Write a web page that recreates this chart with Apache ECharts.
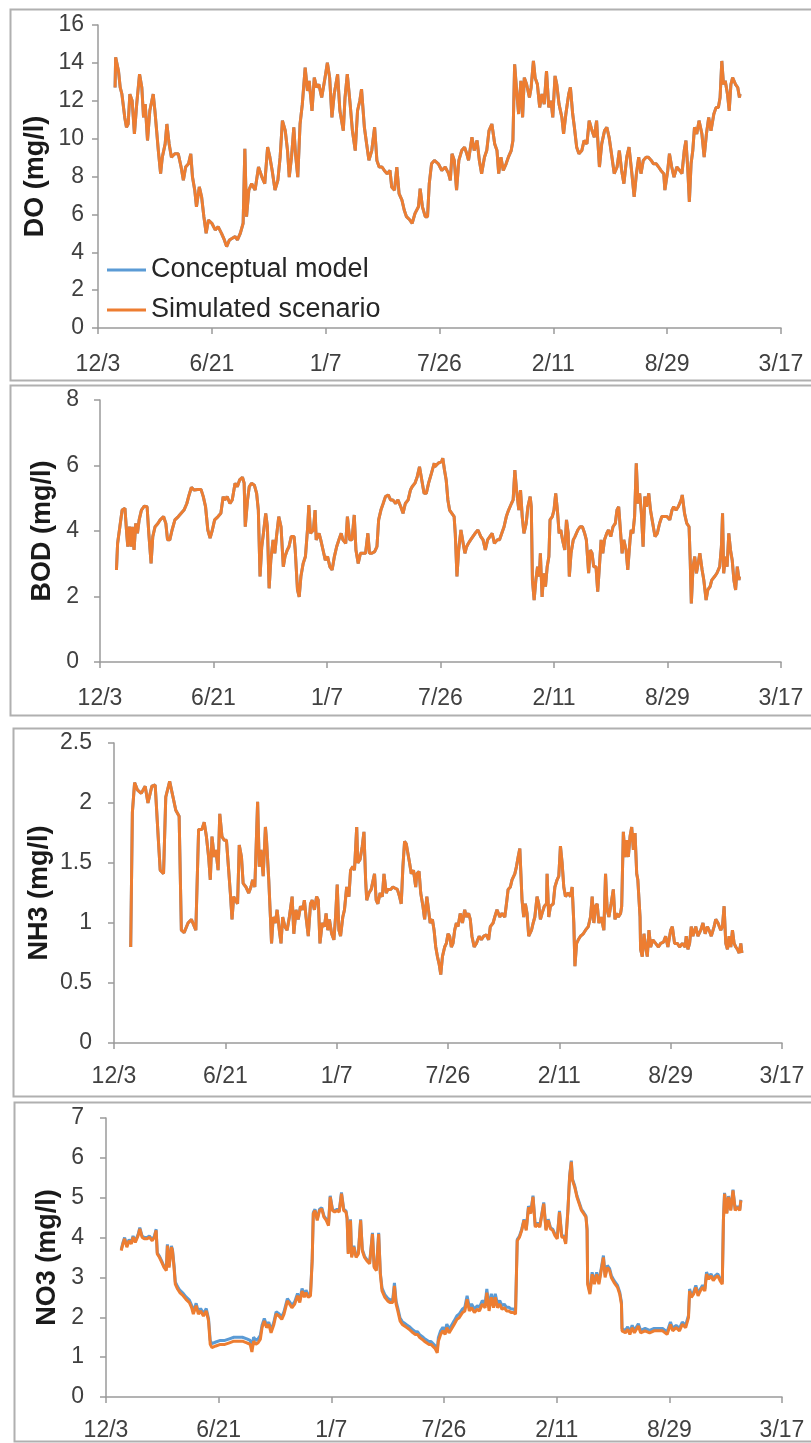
<!DOCTYPE html>
<html><head><meta charset="utf-8">
<script src="https://cdn.jsdelivr.net/npm/echarts@6/dist/echarts.min.js"></script>
<style>html,body{margin:0;padding:0;background:#fff}#c{width:811px;height:1443px}</style>
</head><body><div id="c"></div>
<script>
// ---------- tick labels (x axis is days since 12/3, major unit 200 days) ----------
const xTickLabels = ['12/3','6/21','1/7','7/26','2/11','8/29','3/17'];
const seriesNames = ['Conceptual model','Simulated scenario'];

// ---------- DO ----------
const doDays = [30,31,36,39,42,47,50,53,56,60,64,68,73,77,80,83,87,91,97,100,103,106,110,113,118,121,125,129,135,141,146,150,154,159,163,166,170,173,178,182,186,190,194,200,206,211,217,222,226,231,236,241,245,250,255,258,261,265,270,276,282,288,293,298,302,306,311,316,320,324,329,333,336,340,344,347,351,355,359,364,368,371,376,380,384,388,393,398,403,407,411,415,421,425,431,434,438,443,447,452,456,460,463,468,472,476,481,486,490,494,499,503,508,513,516,521,525,529,534,538,542,548,552,557,563,566,570,575,579,582,586,591,
598,604,610,616,619,622,626,630,634,639,644,648,651,657,661,666,670,674,679,683,687,692,697,701,704,708,712,717,721,726,729,732,736,739,743,746,749,753,758,761,765,768,772,776,780,784,788,792,796,799,803,806,810,815,818,822,827,830,834,837,841,845,850,854,859,863,868,872,876,881,885,890,894,898,903,907,912,916,920,924,929,933,938,942,946,950,954,958,963,967,972,976,981,985,989,994,996,1001,1004,1008,1012,1017,1022,1026,1030,1033,1036,1039,1042,1045,1048,1052,1056,1061,1065,1069,1073,1077,1082,1086,1090,1093,1096,1099,1102,1106,1109,1112,1115,1120,1124,1127,1128];
const doSimulated = [12.7,14.3,13.57,12.7,12.35,11.12,10.6,10.77,12.35,12.0,10.25,11.82,13.4,12.7,11.12,11.82,9.9,11.47,12.35,11.47,10.42,9.37,8.15,9.02,9.72,10.77,9.72,9.02,9.2,9.2,8.5,7.8,8.5,8.67,9.2,7.97,7.28,6.4,7.45,6.93,5.88,5.0,5.7,5.53,5.18,5.35,5.0,4.65,4.3,4.65,4.74,4.83,4.65,5.0,5.53,9.46,5.88,7.28,7.62,7.28,8.5,7.97,7.62,9.55,9.02,8.32,7.28,7.8,9.02,10.95,10.42,9.37,7.97,9.02,10.6,9.2,7.97,10.77,11.82,13.75,12.52,13.05,11.47,13.22,12.7,12.87,12.17,13.05,14.01,13.22,11.12,12.35,13.4,11.47,10.42,12.17,13.4,11.82,10.42,9.37,11.47,12.0,12.61,10.6,9.72,8.85,9.37,10.6,8.85,8.5,8.5,8.32,8.15,8.32,7.45,7.28,8.5,7.1,6.75,6.23,5.88,5.7,5.53,6.05,6.4,7.36,6.4,5.88,5.88,7.62,8.67,8.85,
8.67,8.32,8.5,8.15,7.8,9.2,8.85,7.28,8.85,9.37,9.55,9.2,8.85,10.07,9.37,9.9,8.85,8.15,9.02,9.37,10.42,10.77,9.72,9.37,8.15,9.02,8.32,8.67,9.02,9.37,9.9,13.92,12.35,11.3,13.05,11.12,13.22,12.87,12.17,12.7,14.1,13.22,12.87,11.65,12.35,11.82,13.57,11.65,12.0,11.12,13.31,12.87,11.82,11.12,10.25,11.3,12.35,12.7,11.3,10.6,9.55,9.2,9.37,9.9,9.72,10.95,10.42,10.07,10.95,8.5,9.72,10.42,10.6,10.07,9.02,8.15,8.5,9.37,8.32,7.62,9.02,9.55,8.15,6.93,8.15,9.02,8.15,8.85,9.02,9.02,8.85,8.67,8.67,8.5,8.32,8.15,7.28,8.32,9.2,8.5,7.97,8.5,8.32,8.15,9.37,9.9,8.5,6.66,8.67,9.37,10.6,10.25,10.95,10.25,9.02,10.25,11.12,10.42,11.3,11.65,11.65,12.17,14.1,12.87,13.05,12.35,11.47,12.87,13.22,12.87,12.7,12.17,12.35];
// conceptual model lies under the scenario line (indistinguishable at this scale)
const doConceptual = doSimulated;

// ---------- BOD ----------
const bodDays = [29,31,35,39,44,47,49,52,55,57,60,63,66,69,73,78,83,86,90,93,97,102,106,112,116,119,123,127,132,138,143,148,153,157,161,166,172,178,182,186,190,194,198,202,208,213,217,220,224,229,233,238,242,246,251,254,256,260,263,267,272,276,279,282,285,288,292,295,298,301,305,308,311,315,319,323,326,330,333,337,342,344,348,351,354,358,362,366,368,371,376,379,381,386,389,393,397,401,405,409,413,417,421,425,428,433,436,440,444,448,451,455,459,464,468,472,475,479,484,488,491,495,499,503,508,512,516,521,525,530,534,538,543,547,550,555,559,563,567,571,575,579,584,589,
590,596,602,604,607,610,613,616,620,624,626,629,632,636,640,643,646,649,653,657,661,666,671,675,679,683,687,691,695,700,704,708,712,716,720,725,728,731,734,738,741,744,747,751,754,758,760,762,765,768,771,774,776,779,782,785,788,791,793,797,800,803,806,809,812,815,819,822,825,827,830,834,837,842,846,850,854,857,861,864,867,870,874,877,880,883,886,889,893,896,900,904,908,911,914,917,920,923,927,930,934,936,939,942,945,948,951,954,957,960,963,967,970,974,978,982,986,990,995,999,1004,1008,1011,1015,1019,1024,1026,1030,1034,1038,1040,1042,1045,1048,1051,1053,1057,1061,1064,1068,1071,1075,1078,1083,1087,1092,1095,1097,1099,1102,1105,1108,1111,1114,1117,1120,1123,1126,1127];
const bodSimulated = [2.81,3.62,4.13,4.64,4.69,3.93,3.52,4.13,3.52,4.13,3.42,4.23,3.93,4.34,4.64,4.76,4.74,3.93,3.01,3.83,4.13,4.23,4.34,4.44,4.23,3.73,3.73,4.03,4.34,4.44,4.54,4.64,4.84,5.10,5.33,5.25,5.27,5.27,5.05,4.74,4.03,3.78,4.03,4.34,4.44,4.54,5.05,4.95,5.05,4.84,4.95,5.46,5.35,5.56,5.64,5.46,4.13,4.95,5.35,5.46,5.40,5.15,4.64,2.61,3.52,3.93,4.54,4.13,2.25,3.11,3.73,3.32,3.83,4.44,4.13,2.91,3.22,3.42,3.52,3.83,3.83,3.42,2.20,1.99,2.61,3.01,3.22,4.13,4.79,3.93,4.03,4.64,3.73,3.93,3.73,3.42,3.11,3.22,2.91,2.81,3.22,3.52,3.73,3.93,3.73,3.62,4.44,3.73,3.73,4.49,3.42,3.01,3.32,3.32,3.32,3.93,3.32,3.32,3.37,3.52,4.34,4.64,4.84,5.05,5.10,4.95,4.95,4.84,4.95,4.74,4.54,4.84,4.95,5.25,5.35,5.46,5.66,5.96,5.56,5.15,5.15,5.46,5.76,6.07,
5.96,6.07,6.12,6.22,5.86,5.56,4.95,4.64,4.54,4.44,3.93,2.61,3.42,4.03,3.62,3.32,3.52,3.62,3.73,3.83,3.93,4.03,3.83,3.73,3.42,3.73,3.83,3.93,3.62,3.73,3.73,3.93,4.13,4.44,4.64,4.84,4.95,5.86,5.25,4.64,5.25,4.44,3.93,4.23,4.74,5.05,4.74,2.50,1.89,2.50,2.91,2.61,3.32,1.99,2.71,2.30,2.91,3.22,4.34,4.44,4.64,5.15,4.64,3.93,4.03,3.73,3.42,4.34,3.93,2.61,3.32,3.73,3.83,4.03,4.13,4.13,3.93,3.73,2.71,3.42,3.32,2.91,2.91,2.15,2.91,3.73,3.32,3.73,3.93,4.03,3.83,4.13,4.23,4.64,4.74,4.03,3.32,3.73,3.42,2.81,3.73,4.03,3.93,4.44,6.07,4.84,5.15,4.54,3.52,5.05,4.74,5.15,4.64,4.23,3.83,3.93,4.23,4.44,4.44,4.44,4.34,4.64,4.74,4.64,4.74,4.95,5.10,4.54,4.23,4.13,3.11,1.79,2.91,3.22,2.71,2.91,3.32,2.81,2.50,1.89,2.20,2.30,2.50,2.61,2.71,2.91,3.52,4.54,2.71,3.22,2.91,3.93,3.42,3.11,2.50,2.20,2.91,2.50,2.61];
const bodConceptual = bodSimulated;

// ---------- NH3 ----------
const nh3Days = [30,33,37,42,49,56,61,68,74,80,83,89,93,100,106,111,117,121,126,133,139,147,152,158,162,166,170,173,176,180,183,187,190,194,198,202,206,209,212,215,218,222,225,229,232,237,242,246,249,253,258,261,264,268,272,274,278,281,283,286,290,293,297,300,303,307,311,315,320,323,327,331,335,339,342,345,349,353,356,360,364,367,370,374,378,381,384,387,391,395,398,401,404,407,411,414,418,422,425,429,432,436,438,442,446,449,452,454,458,462,465,468,471,474,478,482,485,489,492,497,501,505,509,513,516,519,522,525,528,531,534,538,542,544,548,551,555,558,562,565,568,572,575,578,581,584,587,590,594,597,600,603,606,609,612,615,618,622,626,630,633,637,640,643,647,651,656,660,664,669,673,676,681,684,688,693,697,702,705,708,712,715,720,723,726,729,732,733,736,739,742,745,750,753,756,760,763,766,769,773,777,778,781,784,789,792,796,799,802,805,808,811,816,820,823,826,828,831,834,838,843,847,852,856,859,862,865,868,871,875,880,883,886,889,893,897,900,903,906,910,912,915,918,921,924,927,930,933,936,939,941,945,946,949,952,955,958,961,964,968,973,978,982,987,991,995,1000,1003,1007,1012,1016,1021,1026,1028,1031,1034,1037,1040,1045,1049,1054,1058,1062,1066,1069,1073,1078,1081,1085,1090,1093,1096,1099,1102,1105,1108,1111,1114,1117,1120,1123,1126,1128];
const nh3Simulated = [0.80,1.92,2.17,2.11,2.08,2.14,2.00,2.14,2.15,1.67,1.44,1.41,2.05,2.18,2.05,1.94,1.89,0.94,0.92,1.00,1.03,0.94,1.78,1.78,1.84,1.72,1.55,1.36,1.72,1.55,1.61,1.44,1.91,1.72,1.69,1.69,1.44,1.25,1.03,1.22,1.19,1.16,1.65,1.55,1.33,1.30,1.25,1.30,1.36,1.30,2.01,1.47,1.61,1.39,1.80,1.69,1.36,1.05,0.83,1.05,1.00,1.11,0.94,0.83,1.05,0.97,0.94,1.05,1.22,0.91,1.11,1.03,1.14,1.11,1.19,1.05,0.89,1.16,1.19,1.11,1.22,1.19,0.83,1.00,0.97,1.08,0.94,1.03,0.91,0.86,1.05,1.32,0.94,0.89,1.05,1.11,1.30,1.22,1.44,1.47,1.44,1.80,1.50,1.53,1.64,1.76,1.36,1.19,1.25,1.28,1.28,1.41,1.19,1.16,1.25,1.22,1.41,1.25,1.28,1.28,1.30,1.29,1.28,1.22,1.16,1.47,1.68,1.66,1.58,1.50,1.41,1.44,1.30,1.41,1.43,1.25,1.14,1.03,1.22,1.23,1.00,1.03,0.94,0.80,0.72,0.66,0.57,0.72,0.80,0.83,0.91,0.89,0.80,0.83,0.94,1.00,0.97,1.08,1.00,1.11,1.05,1.08,1.03,0.89,0.80,0.83,0.89,0.86,0.89,0.90,0.86,0.97,1.00,1.05,1.11,1.05,1.08,1.05,1.16,1.28,1.30,1.36,1.41,1.47,1.55,1.62,1.61,1.19,1.05,1.16,1.08,0.89,0.94,1.00,1.05,1.22,1.16,1.03,1.08,1.14,1.16,1.41,1.05,1.14,1.16,1.30,1.36,1.39,1.64,1.50,1.30,1.22,1.25,1.22,1.30,1.00,0.64,0.83,0.86,0.89,0.91,0.94,0.97,1.05,1.22,1.00,1.14,1.16,1.00,1.05,0.94,1.41,1.11,1.05,1.16,1.28,1.03,1.08,1.05,1.08,1.14,1.76,1.55,1.69,1.55,1.72,1.80,1.61,1.75,1.41,1.36,1.05,0.78,0.72,0.91,0.80,0.72,0.94,0.80,0.86,0.83,0.80,0.83,0.84,0.89,0.80,0.94,0.97,0.83,0.83,0.80,0.83,0.80,0.89,0.78,0.83,0.97,0.89,0.97,0.89,0.94,1.00,0.91,0.97,0.94,0.89,0.97,1.03,1.00,0.94,0.97,1.14,0.83,0.78,0.89,0.80,0.94,0.83,0.80,0.78,0.75,0.83,0.75];
const nh3Conceptual = nh3Simulated;

// ---------- NO3 ----------
const no3Days = [27,30,33,37,41,45,48,52,57,60,64,68,73,77,82,86,89,91,95,99,103,107,109,112,116,118,121,123,127,131,137,142,148,152,155,160,164,168,173,178,182,185,188,195,203,211,219,227,234,242,250,256,259,262,266,270,274,277,281,285,289,293,298,302,307,312,316,322,326,330,335,340,344,348,352,355,359,363,366,368,371,375,379,383,387,391,395,398,402,406,410,414,418,422,426,428,430,434,436,440,444,448,452,455,459,463,468,473,476,480,484,487,490,495,500,504,509,512,515,518,522,526,530,534,538,541,545,549,553,557,561,565,569,573,577,580,584,588,590,594,598,602,605,609,613,618,623,627,633,637,641,645,649,654,659,663,668,673,676,680,684,688,691,695,699,703,707,711,715,719,723,727,729,730,734,738,742,746,750,754,758,762,766,770,773,777,781,785,789,793,797,801,805,809,813,816,820,823,826,828,832,836,840,844,848,852,854,855,859,863,867,871,875,879,883,886,890,894,897,902,908,912,915,916,922,926,930,934,938,941,945,949,957,965,973,980,988,996,1002,1006,1012,1018,1023,1029,1034,1036,1039,1043,1047,1051,1055,1059,1063,1066,1070,1074,1078,1082,1086,1090,1094,1096,1098,1102,1105,1109,1113,1117,1121,1125,1127];
const no3Simulated = [3.67,3.84,3.97,3.76,3.92,3.84,4.01,3.88,4.05,4.22,4.01,3.97,3.97,4.01,3.92,4.01,4.18,3.59,3.50,3.38,3.25,3.17,3.80,3.25,3.76,3.67,3.21,2.83,2.71,2.62,2.54,2.45,2.37,2.24,2.08,2.29,2.08,2.16,2.03,2.16,1.91,1.32,1.24,1.28,1.32,1.32,1.36,1.40,1.40,1.40,1.36,1.32,1.13,1.40,1.32,1.36,1.45,1.74,1.91,1.74,1.82,1.61,1.82,2.08,2.03,1.95,2.08,2.41,2.33,2.24,2.33,2.54,2.37,2.66,2.50,2.62,2.50,2.54,3.42,4.60,4.68,4.43,4.68,4.72,4.51,4.43,4.30,5.02,4.68,4.64,4.68,4.64,5.10,4.68,4.64,4.47,3.59,4.43,3.50,3.76,3.50,3.59,4.43,3.67,3.50,3.42,3.34,4.09,3.25,3.17,4.09,3.08,2.66,2.50,2.41,2.37,2.37,2.79,2.33,2.16,1.91,1.82,1.78,1.74,1.70,1.66,1.61,1.57,1.57,1.49,1.45,1.40,1.36,1.32,1.32,1.28,1.22,1.11,1.40,1.57,1.66,1.57,1.74,1.61,1.70,1.82,1.95,1.99,2.12,2.16,2.45,2.16,2.24,2.12,2.20,2.16,2.33,2.24,2.62,2.16,2.50,2.24,2.50,2.24,2.33,2.20,2.24,2.16,2.16,2.12,2.12,2.08,2.08,3.92,4.01,4.18,4.43,4.18,4.76,4.60,5.02,4.26,4.34,4.26,4.22,4.85,4.18,4.43,4.22,4.18,4.05,3.97,4.64,4.01,4.01,3.84,4.68,5.52,5.90,5.44,5.27,5.02,4.85,4.68,4.60,4.51,4.18,2.83,2.58,3.08,2.83,3.08,2.83,3.17,3.50,3.00,3.25,3.17,3.00,2.87,2.75,2.58,2.33,1.66,1.61,1.70,1.57,1.74,1.61,1.66,1.78,1.61,1.66,1.61,1.66,1.66,1.66,1.57,1.82,1.66,1.74,1.66,1.82,1.74,1.99,2.66,2.50,2.58,2.75,2.54,2.66,2.75,2.66,3.08,2.96,3.04,2.92,3.00,3.04,2.92,2.83,4.43,5.10,4.60,5.02,4.68,5.18,4.68,4.76,4.68,4.93];
const no3Conceptual = [3.70,3.87,4.00,3.79,3.95,3.87,4.04,3.91,4.08,4.25,4.04,4.00,4.00,4.04,3.95,4.04,4.21,3.62,3.53,3.41,3.28,3.20,3.83,3.28,3.79,3.70,3.27,2.89,2.77,2.68,2.60,2.51,2.43,2.30,2.14,2.35,2.14,2.22,2.09,2.22,1.97,1.42,1.34,1.38,1.42,1.42,1.46,1.50,1.50,1.50,1.46,1.42,1.23,1.50,1.42,1.46,1.55,1.80,1.97,1.80,1.88,1.67,1.88,2.14,2.09,2.01,2.14,2.47,2.39,2.30,2.39,2.60,2.43,2.72,2.56,2.68,2.56,2.60,3.45,4.63,4.71,4.46,4.71,4.75,4.54,4.46,4.33,5.05,4.71,4.67,4.71,4.67,5.13,4.71,4.67,4.50,3.62,4.46,3.53,3.79,3.53,3.62,4.46,3.70,3.53,3.45,3.37,4.12,3.28,3.20,4.12,3.11,2.73,2.57,2.48,2.44,2.44,2.86,2.40,2.23,1.98,1.89,1.85,1.81,1.77,1.73,1.68,1.64,1.64,1.56,1.52,1.47,1.43,1.39,1.39,1.35,1.29,1.18,1.49,1.66,1.75,1.66,1.83,1.70,1.79,1.91,2.04,2.08,2.21,2.25,2.54,2.25,2.33,2.21,2.29,2.25,2.42,2.33,2.71,2.25,2.59,2.33,2.59,2.33,2.42,2.29,2.33,2.25,2.25,2.21,2.21,2.17,2.17,3.95,4.04,4.21,4.46,4.21,4.79,4.63,5.05,4.29,4.37,4.29,4.25,4.88,4.21,4.46,4.25,4.21,4.08,4.00,4.67,4.04,4.04,3.87,4.71,5.55,5.93,5.47,5.30,5.05,4.88,4.71,4.63,4.54,4.21,2.88,2.63,3.13,2.88,3.13,2.88,3.22,3.55,3.05,3.30,3.22,3.05,2.92,2.80,2.63,2.38,1.72,1.67,1.76,1.63,1.80,1.67,1.72,1.84,1.67,1.72,1.67,1.72,1.72,1.72,1.63,1.88,1.72,1.80,1.72,1.88,1.80,2.05,2.71,2.55,2.63,2.80,2.59,2.71,2.80,2.71,3.13,3.01,3.09,2.97,3.05,3.09,2.97,2.88,4.45,5.12,4.62,5.04,4.70,5.20,4.70,4.78,4.70,4.95];

// ---------- layout (pixels) ----------
const panels = [
  {title:'DO (mg/l)',  days:doDays,  sim:doSimulated,  con:doConceptual,  max:16,  step:2,   left:98,  right:781, top:25,   bottom:328,  yMargin:14, xMargin:25, titleX:36, box:[10,9,802,371]},
  {title:'BOD (mg/l)', days:bodDays, sim:bodSimulated, con:bodConceptual, max:8,   step:2,   left:100, right:781, top:400,  bottom:662,  yMargin:21, xMargin:25, titleX:43, box:[10,385,802,330]},
  {title:'NH3 (mg/l)', days:nh3Days, sim:nh3Simulated, con:nh3Conceptual, max:2.5, step:0.5, left:114, right:782, top:743,  bottom:1043, yMargin:22, xMargin:22, titleX:40, box:[13,728,800,368]},
  {title:'NO3 (mg/l)', days:no3Days, sim:no3Simulated, con:no3Conceptual, max:7,   step:1,   left:106, right:782, top:1118, bottom:1397, yMargin:22, xMargin:22, titleX:48, box:[14,1102,800,339]}
];

const FONT = "'Liberation Sans', Arial, sans-serif";
const AXIS_COLOR = '#9a9a9a';
const LABEL_COLOR = '#404040';
const BLUE = '#5B9BD5', ORANGE = '#ED7D31';

const grid = [], xAxis = [], yAxis = [], series = [], graphic = [];
panels.forEach((p, i) => {
  graphic.push({type:'rect', shape:{x:p.box[0]+0.5, y:p.box[1]+0.5, width:p.box[2], height:p.box[3]},
    style:{fill:'none', stroke:'#b0b0b0', lineWidth:2}, z:-1});
  graphic.push({type:'text', x:p.titleX, y:(p.top+p.bottom)/2, rotation:Math.PI/2,
    style:{text:p.title, font:"bold 27px 'Liberation Sans', Arial, sans-serif", fill:'#1a1a1a', align:'center', verticalAlign:'middle'}});
  grid.push({left:p.left, top:p.top, width:p.right-p.left, height:p.bottom-p.top, containLabel:false});
  xAxis.push({type:'value', gridIndex:i, min:0, max:1200, interval:200,
    axisLine:{show:true, onZero:false, lineStyle:{color:AXIS_COLOR, width:1.5}},
    axisTick:{show:true, length:6, lineStyle:{color:AXIS_COLOR, width:1.5}},
    splitLine:{show:false},
    axisLabel:{margin:p.xMargin, fontFamily:FONT, fontSize:23, color:LABEL_COLOR,
      formatter:v => xTickLabels[Math.round(v/200)]}});
  yAxis.push({type:'value', gridIndex:i, min:0, max:p.max, interval:p.step,
    axisLine:{show:true, lineStyle:{color:AXIS_COLOR, width:1.5}},
    axisTick:{show:true, length:6, lineStyle:{color:AXIS_COLOR, width:1.5}},
    splitLine:{show:false},
    axisLabel:{margin:p.yMargin, fontFamily:FONT, fontSize:23, color:LABEL_COLOR}});
  series.push({name:seriesNames[0], type:'line', xAxisIndex:i, yAxisIndex:i, showSymbol:false, symbol:'none',
    data:p.days.map((d,k)=>[d, p.con[k]]), lineStyle:{color:BLUE, width:3}, itemStyle:{color:BLUE}, z:2, animation:false});
  series.push({name:seriesNames[1], type:'line', xAxisIndex:i, yAxisIndex:i, showSymbol:false, symbol:'none',
    data:p.days.map((d,k)=>[d, p.sim[k]]), lineStyle:{color:ORANGE, width:3}, itemStyle:{color:ORANGE}, z:3, animation:false});
});

const chart = echarts.init(document.getElementById('c'), null, {renderer:'canvas'});
chart.setOption({
  animation:false,
  backgroundColor:'#fff',
  grid, xAxis, yAxis, series, graphic,
  legend:{data:seriesNames, orient:'vertical', left:107, top:255, padding:0, itemWidth:39, itemHeight:3, itemGap:10,
    icon:'rect', selectedMode:false,
    textStyle:{fontFamily:FONT, fontSize:27, color:'#262626', lineHeight:30}}
});
</script></body></html>
